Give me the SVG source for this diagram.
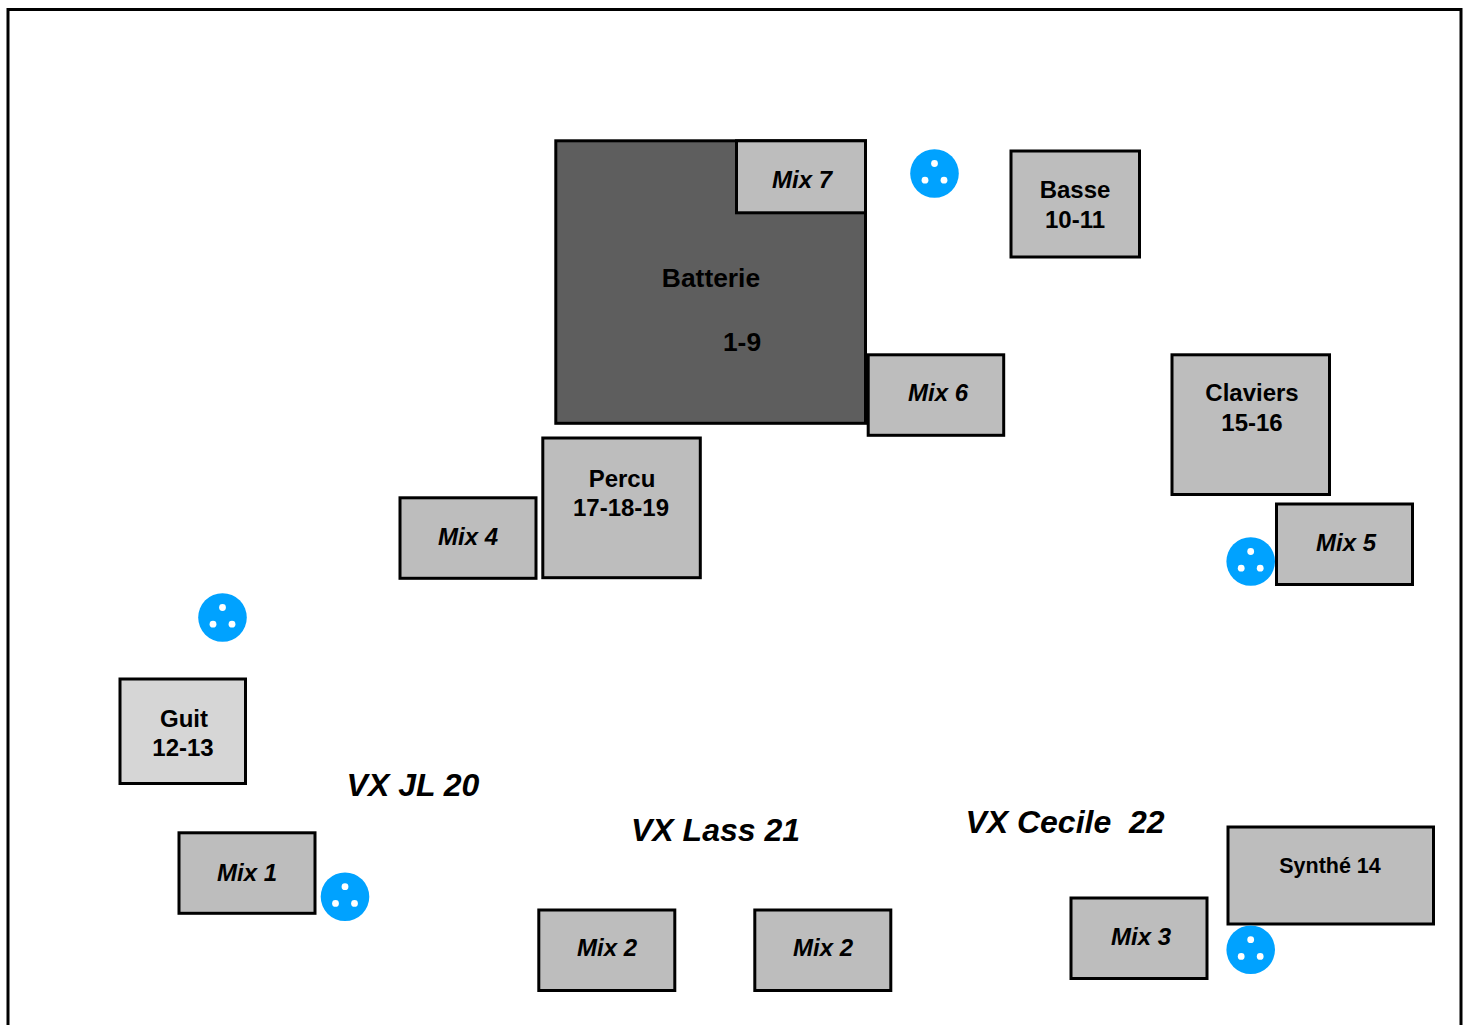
<svg xmlns="http://www.w3.org/2000/svg" width="1468" height="1025" viewBox="0 0 1468 1025">
<style>
text{font-family:"Liberation Sans",Arial,sans-serif;font-weight:700;fill:#000;text-anchor:middle}
.b{stroke:#000;stroke-width:3;fill:#bdbdbd}
.l{font-size:24px}
.k{font-size:26.4px}
.m{font-size:24px;font-style:italic}
.v{font-size:32px;font-style:italic}
.h{fill:#fff}
.x{fill:#00a2ff}
</style>
<defs>
<g id="xlr"><circle class="x" r="24.3"/><circle class="h" cx="0" cy="-10" r="3.4"/><circle class="h" cx="-9.5" cy="6.7" r="3.4"/><circle class="h" cx="9.5" cy="6.7" r="3.4"/></g>
</defs>
<rect width="1468" height="1025" fill="#fff"/>
<rect x="8" y="9.500" width="1453" height="1030" fill="#fff" stroke="#000" stroke-width="3"/>
<g id="connectors"/>
<g id="batterie"><rect class="b" x="555.800" y="140.800" width="309.700" height="282.500" style="fill:#5e5e5e"/><text class="k" x="711" y="287">Batterie</text><text class="k" x="742" y="351">1-9</text></g>
<g id="mix7"><rect class="b" x="736.500" y="140.800" width="129" height="72"/><text class="m" x="802" y="188">Mix 7</text></g>
<g id="mix6"><rect class="b" x="868.200" y="354.800" width="135.500" height="80.500"/><text class="m" x="938" y="401">Mix 6</text></g>
<g id="basse"><rect class="b" x="1011" y="151" width="128.500" height="106"/><text class="l" x="1075" y="198">Basse</text><text class="l" x="1075" y="228">10-11</text></g>
<g id="claviers"><rect class="b" x="1172" y="354.800" width="157.500" height="139.700"/><text class="l" x="1252" y="401">Claviers</text><text class="l" x="1252" y="431">15-16</text></g>
<g id="percu"><rect class="b" x="542.800" y="438" width="157.500" height="139.700"/><text class="l" x="622" y="487">Percu</text><text class="l" x="621" y="516">17-18-19</text></g>
<g id="mix4"><rect class="b" x="400" y="497.800" width="136" height="80.500"/><text class="m" x="468" y="545">Mix 4</text></g>
<g id="mix5"><rect class="b" x="1276.500" y="504" width="136" height="80.500"/><text class="m" x="1346" y="551">Mix 5</text></g>
<g id="guit"><rect class="b" x="120" y="679" width="125.500" height="104.500" style="fill:#d6d6d6"/><text class="l" x="184" y="727">Guit</text><text class="l" x="183" y="756">12-13</text></g>
<g id="mix1"><rect class="b" x="179" y="832.800" width="136" height="80.500"/><text class="m" x="247" y="881">Mix 1</text></g>
<g id="mix2a"><rect class="b" x="538.800" y="910" width="136" height="80.500"/><text class="m" x="607" y="956">Mix 2</text></g>
<g id="mix2b"><rect class="b" x="754.800" y="910" width="136" height="80.500"/><text class="m" x="823" y="956">Mix 2</text></g>
<g id="mix3"><rect class="b" x="1071" y="898" width="136" height="80.500"/><text class="m" x="1141" y="945">Mix 3</text></g>
<g id="synthe"><rect class="b" x="1228" y="827" width="205.500" height="97"/><text x="1330" y="873" font-size="21.500">Synthé 14</text></g>
<g id="xlr1"><use href="#xlr" x="934.500" y="173.500"/></g>
<g id="xlr2"><use href="#xlr" x="1250.700" y="561.500"/></g>
<g id="xlr3"><use href="#xlr" x="222.500" y="617.500"/></g>
<g id="xlr4"><use href="#xlr" x="345" y="896.700"/></g>
<g id="xlr5"><use href="#xlr" x="1250.700" y="949.700"/></g>
<g id="vxjl"><text class="v" x="413" y="796">VX JL 20</text></g>
<g id="vxlass"><text class="v" x="715.500" y="841">VX Lass 21</text></g>
<g id="vxcecile"><text class="v" x="1065" y="833" xml:space="preserve">VX Cecile  22</text></g>
</svg>
